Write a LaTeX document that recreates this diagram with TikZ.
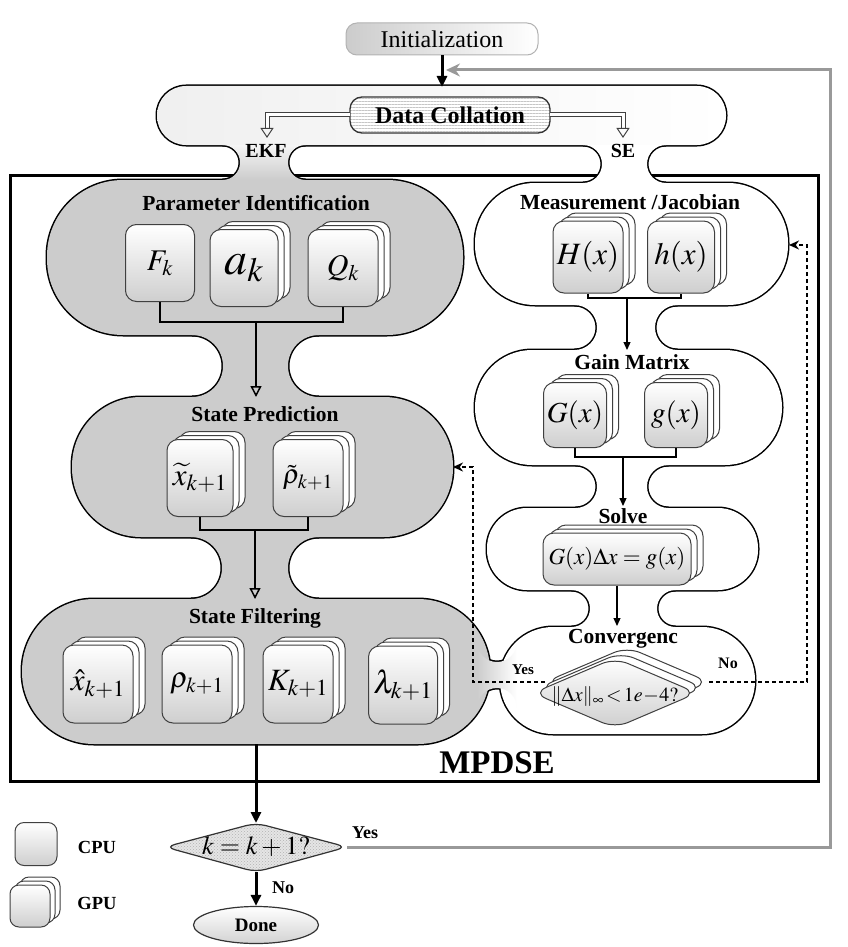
\documentclass[tikz,border=0pt]{standalone}
\usepackage{mathptmx}
\usepackage{fontspec}
\setmainfont{Liberation Serif}
\usetikzlibrary{arrows.meta,shapes.geometric,calc,patterns,patterns.meta}
\newcommand\fsz[1]{\fontsize{#1}{#1}\selectfont}
\newcommand\stad[6]{\path[#1,rounded corners=#6pt] (#2,-#3) rectangle (#4,-#5);}
\newcommand\neckV[5]{\pgfmathsetmacro\rr{(#5-#4)/2}\path[#1] (#2,-#4) -- (#3,-#4) arc[start angle=90,end angle=270,radius=\rr pt] -- (#2,-#5) arc[start angle=-90,end angle=90,radius=\rr pt] -- cycle;}
\newcommand\neckH[5]{\path[#1] ({#2-#3},-#4) arc[start angle=180,end angle=360,radius=#3pt] -- ({#2+#3},-#5) arc[start angle=0,end angle=180,radius=#3pt] -- cycle;}
\newcommand\gstack[6]{%
  \node[boxback,#3] (#1b2) at ($#2+(2*#5,2*#6)$) {};
  \node[boxback,#3] (#1b1) at ($#2+(#5,#6)$) {};
  \node[box,#3] (#1) at #2 {#4};}
\colorlet{panelgray}{gray!40}
\tikzset{
  blobline/.style={draw=black,line width=3pt},
  ttl/.style={font=\fsz{21.5}\bfseries,inner sep=0pt},
  lbl/.style={font=\fsz{#1}\bfseries,inner sep=0pt},
  box/.style={draw=black!75,line width=1pt,rounded corners=11pt,top color=white,bottom color=gray!38,inner sep=0pt},
  boxback/.style={draw=black!75,line width=1pt,rounded corners=11pt,fill=white,inner sep=0pt},
  thickarrow/.style={line width=3pt,-{Triangle[length=11pt,width=10pt]}},
  openarrow/.style={line width=2pt,-{Triangle[open,length=11pt,width=11pt,line width=1.5pt]}},
  thinarrow/.style={line width=1.2pt,-{Triangle[length=8pt,width=7pt]}},
  bracket/.style={line width=2pt},
  thinbracket/.style={line width=1.2pt},
  dasharrow/.style={line width=2pt,dash pattern=on 4pt off 3pt,-{Stealth[length=10pt,width=9pt]}},
  grayarrow/.style={draw=gray!80,line width=3pt,-{Stealth[length=14pt,width=13pt]}},
  dbl/.style={draw=black!75,line width=1pt,double=white,double distance=3pt},
  dbltip/.style={draw=black!75,line width=1pt,-{Triangle[open,length=10pt,width=13pt]}},
  convshape/.style={draw=black!75,line width=1pt,rounded corners=14pt},
}
\begin{document}
\begin{tikzpicture}[x=1pt,y=1pt]
\useasboundingbox (0,0) rectangle (848,-947);
% MPDSE frame
\draw[line width=3pt] (10,-175) rectangle (818,-781);
% ---- blob outline (stroke pass) ----
\stad{blobline}{157}{86}{726}{145}{29}
\stad{blobline}{47}{180}{463}{335}{76}
\stad{blobline}{72}{397}{453}{537}{69}
\stad{blobline}{22}{599}{490}{744}{72}
\stad{blobline}{475}{183}{788}{305}{60}
\stad{blobline}{475}{350}{782}{465}{57}
\stad{blobline}{487}{508}{758}{590}{40}
\stad{blobline}{500}{627}{755}{734}{53}
\neckV{blobline}{222.5}{305.5}{145}{180}
\neckV{blobline}{583}{666}{145}{183}
\neckV{blobline}{192}{319}{335}{397}
\neckV{blobline}{191}{319}{537}{599}
\neckV{blobline}{574.5}{677.5}{305}{350}
\neckV{blobline}{575.5}{668.5}{465}{508}
\neckV{blobline}{571.5}{675.5}{590}{627}
\neckH{blobline}{497}{20}{642}{708}
% ---- blob fill pass ----
\stad{left color=gray!12,right color=white}{157}{86}{726}{145}{29}
\stad{fill=panelgray}{47}{180}{463}{335}{76}
\stad{fill=panelgray}{72}{397}{453}{537}{69}
\stad{fill=panelgray}{22}{599}{490}{744}{72}
\stad{fill=white}{475}{183}{788}{305}{60}
\stad{fill=white}{475}{350}{782}{465}{57}
\stad{fill=white}{487}{508}{758}{590}{40}
\stad{fill=white}{500}{627}{755}{734}{53}
\neckV{top color=gray!8,bottom color=panelgray}{222.5}{305.5}{145}{180}
\neckV{fill=white}{583}{666}{145}{183}
\neckV{fill=panelgray}{192}{319}{335}{397}
\neckV{fill=panelgray}{191}{319}{537}{599}
\neckV{fill=white}{574.5}{677.5}{305}{350}
\neckV{fill=white}{575.5}{668.5}{465}{508}
\neckV{fill=white}{571.5}{675.5}{590}{627}
\neckH{left color=panelgray,right color=white}{497}{20}{642}{708}
% ---- top ----
\node[draw=gray!60,line width=1pt,rounded corners=11pt,left color=gray!40,right color=white,minimum width=192pt,minimum height=32pt,font=\fsz{24}] (init) at (442,-39) {Initialization};
\coordinate (bandtop) at (442,-87);
\draw[thickarrow] (init.south) -- (bandtop);
\node[draw=black!80,line width=1.3pt,rounded corners=12pt,minimum width=200pt,minimum height=36pt,preaction={fill=white},pattern={Lines[angle=0,distance=3pt,line width=0.5pt]},pattern color=gray!45,font=\fsz{24}\bfseries] (DC) at (450,-115) {Data Collation};
\coordinate (ekfa) at (267,-128);
\coordinate (ekft) at (267,-138);
\coordinate (sea) at (623,-128);
\coordinate (set) at (623,-138);
\draw[dbl] (DC.west) -| (ekfa);
\draw[dbl] (DC.east) -| (sea);
\draw[dbltip] (ekfa) -- (ekft);
\draw[dbltip] (sea) -- (set);
\node[lbl=20] (ekf) at (266,-151) {EKF};
\node[lbl=20] (se) at (623,-151) {SE};
% ---- left column ----
\node[ttl] (t1) at (256,-203) {Parameter Identification};
\node[box,minimum width=69pt,minimum height=77pt] (Fk) at (160,-263) {\fsz{30}$F_k$};
\gstack{ak}{(244,-268)}{minimum width=68pt,minimum height=77pt}{\fsz{46}$a_k$}{6}{4}
\gstack{Qk}{(343,-268)}{minimum width=70pt,minimum height=77pt}{\fsz{30}$Q_k$}{6}{4}
\coordinate (b1) at (256,-322);
\coordinate (p2top) at (256,-397);
\draw[bracket] (Fk.south) |- (b1) -| (Qk.south);
\draw[openarrow] (b1) -- (p2top);
\node[ttl] (t2) at (265,-414) {State Prediction};
\gstack{xt}{(200,-478)}{minimum width=66pt,minimum height=77pt}{\fsz{31}$\widetilde{x}_{k+1}$}{6}{4}
\gstack{rt}{(308,-478)}{minimum width=70pt,minimum height=77pt}{\fsz{27}$\tilde{\rho}_{k+1}$}{6}{4}
\coordinate (b2) at (255,-530);
\coordinate (p3top) at (255,-599);
\draw[bracket] (xt.south) |- (b2) -| (rt.south);
\draw[openarrow] (b2) -- (p3top);
\node[ttl] (t3) at (255,-618) {State Filtering};
\gstack{xh}{(98,-684)}{minimum width=70pt,minimum height=78pt}{\fsz{31}$\hat{x}_{k+1}$}{6}{4}
\gstack{rh}{(197,-684)}{minimum width=70pt,minimum height=78pt}{\fsz{29}$\rho_{k+1}$}{6}{4}
\gstack{Kk}{(298,-684)}{minimum width=70pt,minimum height=78pt}{\fsz{31}$K_{k+1}$}{6}{4}
\gstack{lk}{(403,-685)}{minimum width=69pt,minimum height=78pt}{\fsz{32}$\lambda_{k+1}$}{6}{4}
% ---- right column ----
\node[ttl] (t4) at (630,-202) {Measurement /Jacobian};
\gstack{H}{(588,-257)}{minimum width=70pt,minimum height=72pt}{\fsz{31}$H(x)$}{6}{4}
\gstack{hh}{(681,-257)}{minimum width=67pt,minimum height=72pt}{\fsz{31}$h(x)$}{6}{4}
\coordinate (bm1) at (627,-298);
\coordinate (gtop) at (627,-350);
\draw[thinbracket] (H.south) |- (bm1) -| (hh.south);
\draw[thinarrow] (bm1) -- (gtop);
\node[ttl] (t5) at (632,-362) {Gain Matrix};
\gstack{G}{(575,-415)}{minimum width=63pt,minimum height=65pt}{\fsz{29}$G(x)$}{6}{4}
\gstack{gg}{(676,-415)}{minimum width=63pt,minimum height=65pt}{\fsz{29}$g(x)$}{6}{4}
\coordinate (bm2) at (623,-457);
\coordinate (stop) at (623,-506);
\draw[thinbracket] (G.south) |- (bm2) -| (gg.south);
\draw[thinarrow] (bm2) -- (stop);
\node[ttl] (t6) at (623,-516) {Solve};
\gstack{S}{(617,-559)}{minimum width=148pt,minimum height=52pt}{\fsz{23}$G(x)\Delta x=g(x)$}{6}{4}
\coordinate (ctop) at (617,-626);
\draw[thinarrow] (S.south) -- (ctop);
\node[ttl] (t7) at (623,-639) {Convergenc};
\foreach \s in {2,1}{
  \draw[convshape,fill=white,shift={(\s*6,\s*5.5)}] (533,-693) -- (615,-658) -- (697,-693) -- (615,-728) -- cycle;
}
\draw[convshape,top color=white,bottom color=gray!38] (533,-693) -- (615,-658) -- (697,-693) -- (615,-728) -- cycle;
\node[inner sep=0pt] (conv) at (615,-697) {\fsz{20}$\|\Delta x\|_\infty\!<\!1e\!-\!4?$};
\coordinate (cvL) at (545,-682);
\coordinate (cvR) at (709,-682);
\coordinate (lda) at (473,-467);
\coordinate (p2r) at (453,-467);
\coordinate (rda) at (807,-245);
\coordinate (mr) at (789,-245);
\draw[dasharrow] (cvL) -| (lda) -- (p2r);
\draw[dasharrow] (cvR) -| (rda) -- (mr);
\node[lbl=15] (yes1) at (523,-670) {Yes};
\node[lbl=16] (no1) at (728,-663) {No};
\node[lbl=33] (mp) at (497,-763) {MPDSE};
% ---- bottom ----
\coordinate (decW) at (165,-847);
\coordinate (decN) at (256,-823);
\coordinate (decE) at (347,-847);
\coordinate (decS) at (256,-872);
\draw[draw=black!80,line width=1.2pt,rounded corners=10pt,preaction={fill=gray!20},pattern=crosshatch dots,pattern color=gray!60] (decW) -- (decN) -- (decE) -- (decS) -- cycle;
\node[inner sep=0pt] (dec) at (256,-847) {\fsz{26}$k=k+1?$};
\coordinate (p3bot) at (256,-744);
\draw[thickarrow] (p3bot) -- (decN);
\node[ellipse,draw=black!80,line width=1.2pt,minimum width=125pt,minimum height=37pt,inner sep=0pt,top color=white,bottom color=gray!35,font=\fsz{19}\bfseries] (done) at (256,-925) {Done};
\draw[thickarrow] (decS) -- (done.north);
\node[lbl=18] (yes2) at (365,-833) {Yes};
\node[lbl=18] (no2) at (283,-888) {No};
\coordinate (gtr) at (830,-70);
\coordinate (gin) at (446,-70);
\draw[grayarrow] (decE) -| (gtr) -- (gin);
% legend
\node[box,minimum width=42pt,minimum height=43pt,rounded corners=9pt] (cpu) at (36,-844) {};
\gstack{gpu}{(30,-906)}{minimum width=40pt,minimum height=42pt,rounded corners=9pt}{}{5}{4}
\node[lbl=18.5] (cpul) at (97,-847) {CPU};
\node[lbl=18.5] (gpul) at (97,-903) {GPU};
\end{tikzpicture}
\end{document}
